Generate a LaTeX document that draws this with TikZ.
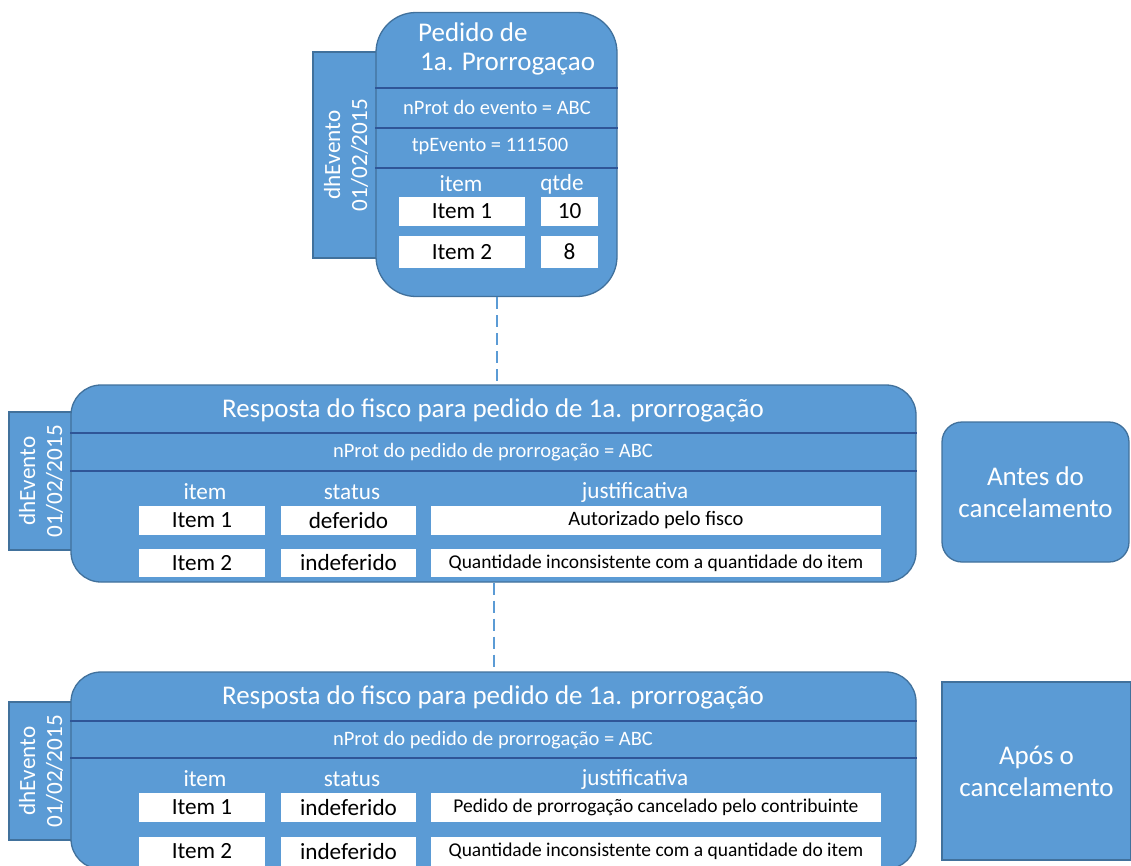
\documentclass[tikz,border=0pt]{standalone}
\usepackage{fontspec}
\setmainfont{Carlito}
\usetikzlibrary{positioning}
\definecolor{FiscoBlue}{HTML}{5B9BD5}
\definecolor{FiscoEdge}{HTML}{41719C}
\definecolor{FiscoLine}{HTML}{2F5597}

\begin{document}
\begin{tikzpicture}[x=1pt,y=-1pt,
  panel/.style={draw=FiscoEdge,line width=1.3pt,fill=FiscoBlue,inner sep=0pt,
    text=white,align=center},
  tab/.style={panel,rounded corners=0pt},
  divider/.style={draw=FiscoLine,line width=2.6pt},
  cell/.style={fill=white,inner sep=0pt,text=black},
  wt/.style={text=white,inner sep=0pt},
  link/.style={draw=FiscoBlue,line width=2pt,dash pattern=on 12pt off 6pt},
  f13/.style={font=\fontsize{19.5}{22}\selectfont},
  f15/.style={font=\fontsize{20.5}{24}\selectfont},
  f17/.style={font=\fontsize{23.2}{27}\selectfont},
  f20/.style={font=\fontsize{27}{32}\selectfont},
  f22/.style={font=\fontsize{27}{32}\selectfont}]
  \useasboundingbox (0,0) rectangle (1131,865);
  \clip (0,0) rectangle (1131,865);

  % pedido
  \node[tab,minimum width=65,minimum height=206] (tab0) at (345.5,155) {};
  \node[panel,rounded corners=40pt,minimum width=241,minimum height=284] (pedido) at (496.5,154.5) {};
  \node[wt,f17,rotate=90,align=center] (dh0) at (346,155) {dhEvento\\01/02/2015};
  \draw[divider] (pedido.west |- 0,88) -- (pedido.east |- 0,88);
  \draw[divider] (pedido.west |- 0,128) -- (pedido.east |- 0,128);
  \draw[divider] (pedido.west |- 0,168) -- (pedido.east |- 0,168);
  \node[wt,f20,anchor=west] (pt1) at (418,32) {Pedido de};
  \node[wt,f20,anchor=west] (pt2) at (420,64) {1a. Prorrogaçao};
  \node[wt,f15] (pnprot) at (497,107) {nProt do evento = ABC};
  \node[wt,f15] (ptp) at (490,146) {tpEvento = 111500};
  \node[wt,f17] (phi) at (461,184) {item};
  \node[wt,f17] (phq) at (562,184) {qtde};
  \node[cell,f17,minimum width=126,minimum height=29] (pi1) at (462,211.5) {Item 1};
  \node[cell,f17,minimum width=57,minimum height=29] (pq1) at (569.5,211.5) {10};
  \node[cell,f17,minimum width=126,minimum height=32] (pi2) at (462,252) {Item 2};
  \node[cell,f17,minimum width=57,minimum height=32] (pq2) at (569.5,252) {8};

  % resposta antes
  \node[tab,minimum width=63,minimum height=138] (tab1) at (40.5,481) {};
  \node[panel,rounded corners=30pt,minimum width=845,minimum height=197] (resp1) at (493.5,483.5) {};
  \node[wt,f17,rotate=90,align=center] (dh1) at (41,481) {dhEvento\\01/02/2015};
  \draw[divider] (resp1.west |- 0,433) -- (resp1.east |- 0,433);
  \draw[divider] (resp1.west |- 0,471) -- (resp1.east |- 0,471);
  \node[wt,f22] (r1t) at (493,410) {Resposta do fisco para pedido de 1a. prorrogação};
  \node[wt,f15] (r1n) at (493,452) {nProt do pedido de prorrogação = ABC};
  \node[wt,f17] (r1hi) at (205,492) {item};
  \node[wt,f17] (r1hs) at (352,492) {status};
  \node[wt,f17] (r1hj) at (635,492) {justificativa};
  \node[cell,f17,minimum width=126,minimum height=29] (r1i1) at (202,520.5) {Item 1};
  \node[cell,f17,minimum width=135,minimum height=29] (r1s1) at (348.5,520.5) {deferido};
  \node[cell,f15,minimum width=450,minimum height=29] (r1j1) at (656,520.5) {Autorizado pelo fisco};
  \node[cell,f17,minimum width=126,minimum height=28] (r1i2) at (202,563) {Item 2};
  \node[cell,f17,minimum width=135,minimum height=28] (r1s2) at (348.5,563) {indeferido};
  \node[cell,f13,minimum width=450,minimum height=28] (r1j2) at (656,563) {Quantidade inconsistente com a quantidade do item};
  \node[panel,f20,rounded corners=20pt,minimum width=187,minimum height=140] (antes) at (1035.5,492) {Antes do\\cancelamento};

  % resposta apos
  \node[tab,minimum width=63,minimum height=138] (tab2) at (40.5,771) {};
  \node[panel,rounded corners=30pt,minimum width=845,minimum height=197] (resp2) at (493.5,770.5) {};
  \node[wt,f17,rotate=90,align=center] (dh2) at (41,771) {dhEvento\\01/02/2015};
  \draw[divider] (resp2.west |- 0,721) -- (resp2.east |- 0,721);
  \draw[divider] (resp2.west |- 0,758) -- (resp2.east |- 0,758);
  \node[wt,f22] (r2t) at (493,697) {Resposta do fisco para pedido de 1a. prorrogação};
  \node[wt,f15] (r2n) at (493,740) {nProt do pedido de prorrogação = ABC};
  \node[wt,f17] (r2hi) at (205,779) {item};
  \node[wt,f17] (r2hs) at (352,779) {status};
  \node[wt,f17] (r2hj) at (635,779) {justificativa};
  \node[cell,f17,minimum width=126,minimum height=29] (r2i1) at (202,807.5) {Item 1};
  \node[cell,f17,minimum width=135,minimum height=29] (r2s1) at (348.5,807.5) {indeferido};
  \node[cell,f13,minimum width=450,minimum height=29] (r2j1) at (656,807.5) {Pedido de prorrogação cancelado pelo contribuinte};
  \node[cell,f17,minimum width=126,minimum height=29] (r2i2) at (202,851.5) {Item 2};
  \node[cell,f17,minimum width=135,minimum height=29] (r2s2) at (348.5,851.5) {indeferido};
  \node[cell,f13,minimum width=450,minimum height=29] (r2j2) at (656,851.5) {Quantidade inconsistente com a quantidade do item};
  \node[tab,f20,minimum width=189,minimum height=178] (apos) at (1036.5,771) {Após o\\cancelamento};

  \draw[link] (pedido.south) -- (pedido.south |- resp1.north);
  \draw[link] (resp1.south) -- (resp2.north);
\end{tikzpicture}
\end{document}
